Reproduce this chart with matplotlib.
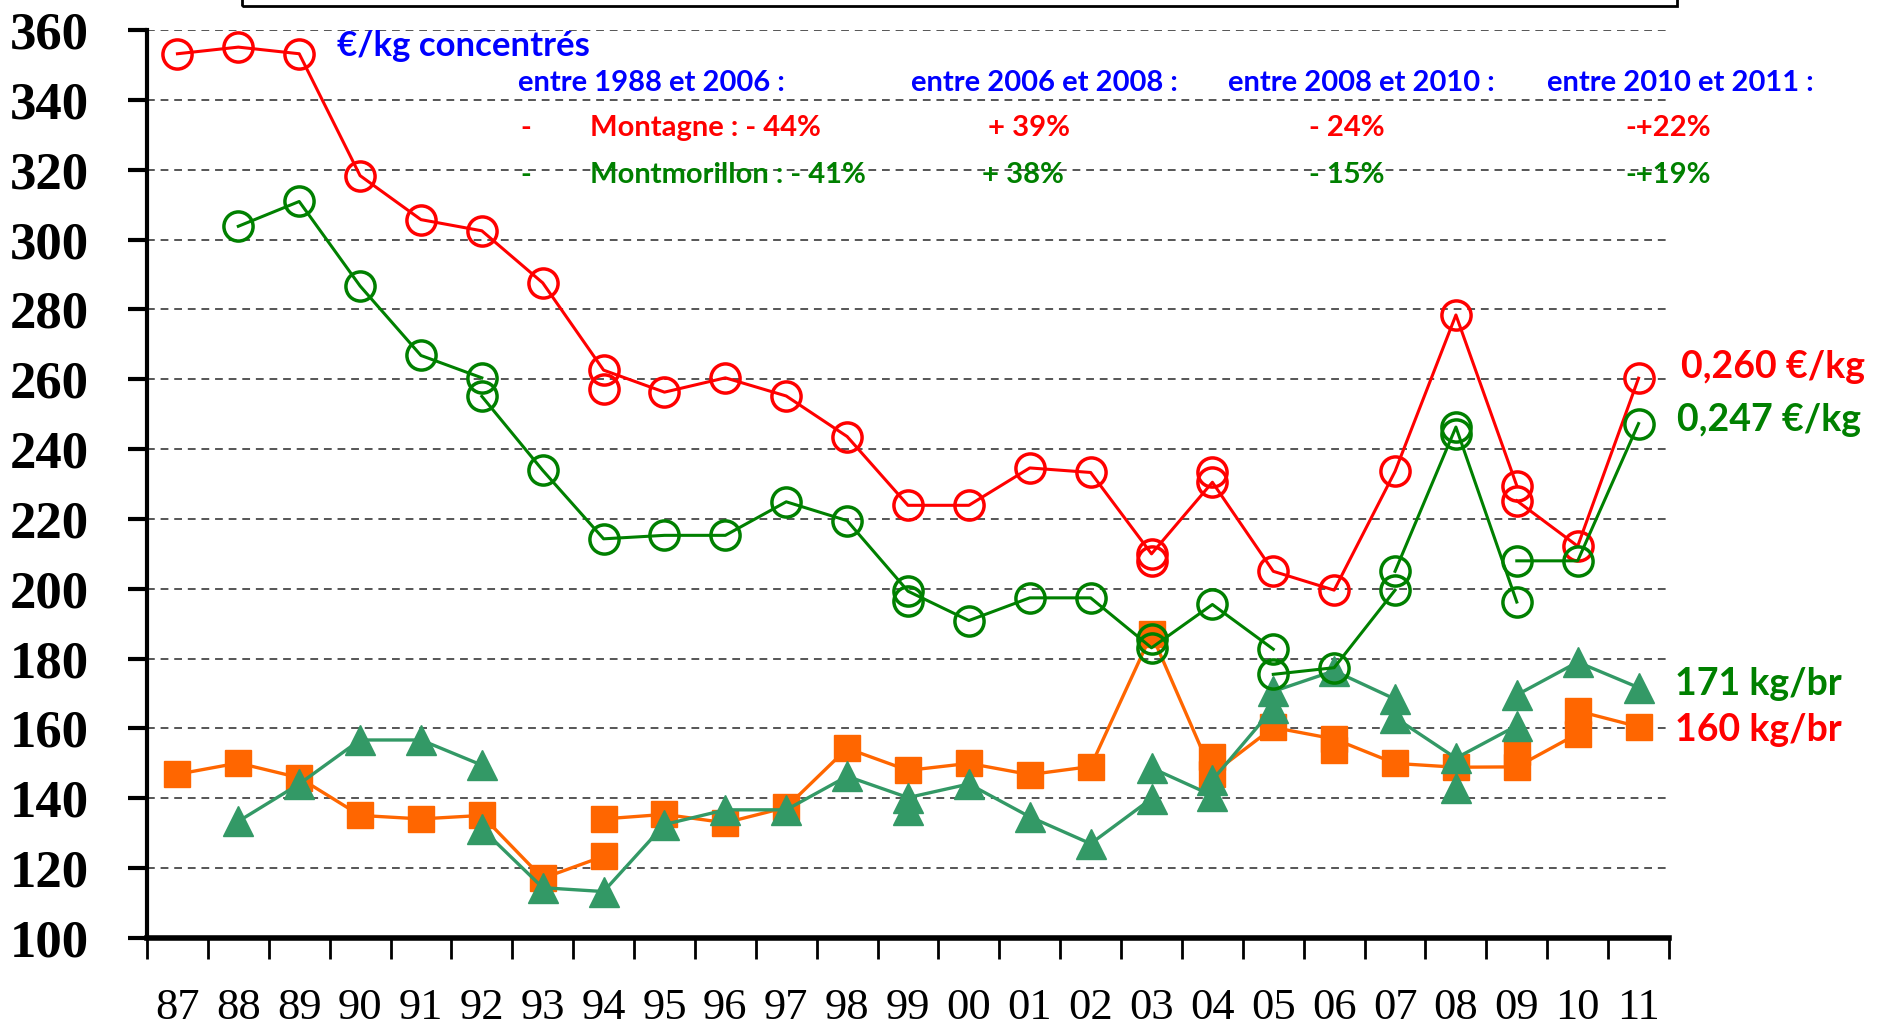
import matplotlib
matplotlib.use('Agg')
import matplotlib.pyplot as plt
import numpy as np
from matplotlib.patches import Rectangle

# categories (years)
years = ['87', '88', '89', '90', '91', '92', '93', '94', '95', '96', '97', '98', '99',
         '00', '01', '02', '03', '04', '05', '06', '07', '08', '09', '10', '11']

# Montagne, cost of concentrates (red circles), drawn as line pieces
red_a_start = '87'
red_a = [353.2, 355.1, 353.2, 318.3, 305.7, 302.5, 287.6, 262.6, 256.3, 260.4, 255.2,
         243.6, 223.9, 223.9, 234.6, 233.3, 210.0, 230.5, 205.0, 199.6, 233.6, 278.4, 229.5]
red_b_start = '09'
red_b = [225.2, 212.2, 260.3]
red_extra_years = ['94', '03', '04']
red_extra = [257.3, 208.0, 233.4]

# Montmorillon, cost of concentrates (green circles)
green_a_start = '88'
green_a = [303.8, 310.9, 286.7, 266.8, 260.4]
green_b_start = '92'
green_b = [255.1, 233.9, 214.3, 215.3, 215.3, 224.9, 219.5, 199.3, 190.9, 197.4, 197.4,
           183.1, 195.5, 182.7]
green_c_start = '05'
green_c = [175.5, 177.4, 199.6]
green_d_start = '07'
green_d = [205.0, 246.3, 196.2]
green_e_start = '09'
green_e = [208.0, 208.0, 247.3]
green_extra_years = ['99', '03', '08']
green_extra = [196.4, 185.5, 244.4]

# Montagne, kg concentrates per goat (orange squares)
orange_a_start = '87'
orange_a = [146.9, 150.1, 145.9, 135.1, 134.1, 135.1, 117.1, 123.4]
orange_b_start = '94'
orange_b = [134.1, 135.4, 133.0, 137.4, 154.3, 148.0, 150.0, 146.8, 149.1, 187.0, 147.0,
            160.3, 157.0, 150.0, 148.9, 149.0, 158.5]
orange_c_start = '10'
orange_c = [165.0, 160.5]
orange_extra_years = ['04', '06', '09']
orange_extra = [151.7, 153.7, 153.4]

# Montmorillon, kg concentrates per goat (triangles)
tri_a_start = '88'
tri_a = [133.4, 144.1, 156.7, 156.7, 149.5]
tri_b_start = '92'
tri_b = [131.3, 114.4, 113.3, 132.5, 136.7, 136.7, 146.3, 140.2, 144.1, 134.7, 127.0, 139.9]
tri_c_start = '03'
tri_c = [148.7, 140.8]
tri_d_start = '04'
tri_d = [145.2, 165.8]
tri_e_start = '05'
tri_e = [170.6, 176.5, 168.4]
tri_f_start = '07'
tri_f = [163.1, 151.5, 160.8]
tri_g_start = '09'
tri_g = [169.6, 179.0, 171.7]
tri_extra_years = ['99', '08']
tri_extra = [136.7, 143.0]

# text
title_unit = '€/kg concentrés'
periods = ['entre 1988 et 2006 :', 'entre 2006 et 2008 :', 'entre 2008 et 2010 :', 'entre 2010 et 2011 :']
red_changes = ['Montagne : - 44%', '+ 39%', '- 24%', '-+22%']
green_changes = ['Montmorillon : - 41%', '+ 38%', '- 15%', '-+19%']
end_labels = ['0,260 €/kg', '0,247 €/kg', '171 kg/br', '160 kg/br']

RED = '#FF0000'
GREEN = '#008000'
ORANGE = '#FF6600'
SEA = '#339966'
BLUE = '#0000FF'
TXT = ['Lato', 'DejaVu Sans']

x = np.arange(len(years))


def piece(start, vals):
    i0 = years.index(start)
    return x[i0:i0 + len(vals)], np.array(vals)


fig = plt.figure(figsize=(18.88, 10.31), dpi=100)
ax = fig.add_axes([147 / 1888, 1 - 938 / 1031, (1669 - 147) / 1888, (938 - 30) / 1031])

# orange squares
for st, v in [(orange_a_start, orange_a), (orange_b_start, orange_b), (orange_c_start, orange_c)]:
    xs, ys = piece(st, v)
    ax.plot(xs, ys, color=ORANGE, lw=2.4, marker='s', ms=19, mec=ORANGE, mfc=ORANGE,
            zorder=2, clip_on=False)
ax.plot([years.index(y) for y in orange_extra_years], orange_extra, ls='none', marker='s',
        ms=19, color=ORANGE, zorder=2, clip_on=False)

# triangles
for st, v in [(tri_a_start, tri_a), (tri_b_start, tri_b), (tri_c_start, tri_c), (tri_d_start, tri_d),
              (tri_e_start, tri_e), (tri_f_start, tri_f), (tri_g_start, tri_g)]:
    xs, ys = piece(st, v)
    ax.plot(xs, ys, color=SEA, lw=2.4, marker='^', ms=21, mec=SEA, mfc=SEA,
            zorder=3, clip_on=False)
ax.plot([years.index(y) for y in tri_extra_years], tri_extra, ls='none', marker='^',
        ms=21, color=SEA, zorder=3, clip_on=False)

# red circles
for st, v in [(red_a_start, red_a), (red_b_start, red_b)]:
    xs, ys = piece(st, v)
    ax.plot(xs, ys, color=RED, lw=2.2, marker='o', ms=21, mew=2.5, mfc='none', mec=RED,
            zorder=4, clip_on=False)
ax.plot([years.index(y) for y in red_extra_years], red_extra, ls='none', marker='o', ms=21,
        mew=2.5, mfc='none', mec=RED, zorder=4, clip_on=False)

# green circles
for st, v in [(green_a_start, green_a), (green_b_start, green_b), (green_c_start, green_c),
              (green_d_start, green_d), (green_e_start, green_e)]:
    xs, ys = piece(st, v)
    ax.plot(xs, ys, color=GREEN, lw=2.2, marker='o', ms=21, mew=2.5, mfc='none', mec=GREEN,
            zorder=5, clip_on=False)
ax.plot([years.index(y) for y in green_extra_years], green_extra, ls='none', marker='o', ms=21,
        mew=2.5, mfc='none', mec=GREEN, zorder=5, clip_on=False)

# axes
ax.set_xlim(-0.5, len(years) - 0.5)
ax.set_ylim(100, 360)
ax.set_yticks(np.arange(100, 361, 20))
ax.set_xticks(np.arange(len(years) + 1) - 0.5)
ax.set_xticklabels([])
ax.set_xticks(x, minor=True)
ax.set_xticklabels(years, minor=True)
ax.tick_params(axis='x', which='major', direction='out', length=15, width=2)
ax.tick_params(axis='x', which='minor', length=0, pad=36)
ax.tick_params(axis='y', direction='out', length=14, width=3, pad=28)
for lab in ax.get_xticklabels(minor=True):
    lab.set_fontfamily('Liberation Serif')
    lab.set_fontsize(32)
for lab in ax.get_yticklabels():
    lab.set_fontfamily('Liberation Serif')
    lab.set_fontweight('bold')
    lab.set_fontsize(38)

for s in ['top', 'right']:
    ax.spines[s].set_visible(False)
ax.spines['left'].set_linewidth(3)
ax.spines['bottom'].set_linewidth(4)
ax.spines['bottom'].set_zorder(6)

for v in np.arange(120, 361, 20):
    ax.axhline(v, color='#555555', lw=1.4, ls=(0, (4, 3)), zorder=1)

# top box (partly out of the figure)
fig.patches.append(Rectangle((242 / 1888, 1 - 6 / 1031), (1677 - 242) / 1888, 0.05,
                             transform=fig.transFigure, fill=False, ec='black', lw=2))


def ftext(px, py, s, color, size, ha='left'):
    fig.text(px / 1888, 1 - py / 1031, s, color=color, fontsize=size, fontweight='bold',
             family=TXT, ha=ha, va='center')


ftext(337, 46, title_unit, BLUE, 25)
for px, s in zip([518, 911, 1228, 1547], periods):
    ftext(px, 83, s, BLUE, 21)
ftext(520, 128, '-', RED, 21)
ftext(520, 175, '-', GREEN, 21)
for px, s in zip([590, 988, 1309, 1625], red_changes):
    ftext(px, 128, s, RED, 21)
for px, s in zip([590, 982, 1309, 1625], green_changes):
    ftext(px, 175, s, GREEN, 21)

ftext(1681, 367, end_labels[0], RED, 27)
ftext(1677, 420, end_labels[1], GREEN, 27)
ftext(1675, 684, end_labels[2], GREEN, 27)
ftext(1675, 730, end_labels[3], RED, 27)

fig.savefig('out.png', dpi=100)
